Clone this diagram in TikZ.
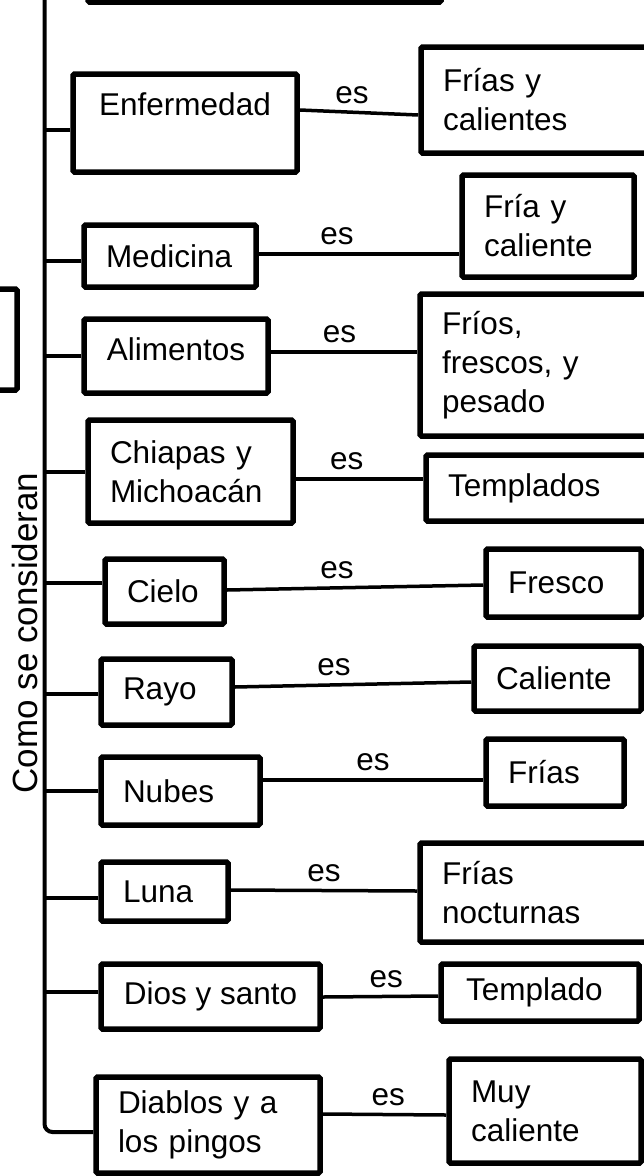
\documentclass[tikz,border=0pt]{standalone}
\usepackage{fontspec}
\setmainfont{Liberation Sans}
\usetikzlibrary{positioning,calc}

\begin{document}
\begin{tikzpicture}[x=1pt,y=-1pt,
        font=\fontsize{31.5}{39}\selectfont,
        caja/.style={draw, line width=5.5pt, rounded corners=1.5pt, inner sep=0pt},
        nota/.style={caja, align=left, inner xsep=22pt, text width=#1},
        rama/.style={line width=4pt},
        enlace/.style={line width=3.5pt},
        etiq/.style={above, inner sep=7pt}]
  \useasboundingbox (0,0) rectangle (644,1176);

  % cajas cortadas por el borde
  \node[caja, minimum width=353, minimum height=100] (arriba) at (264.5,-48) {};
  \node[caja, minimum width=115, minimum height=101] (izq) at (-40.5,339.5) {};

  % conceptos de la izquierda
  \node[caja, minimum width=224, minimum height=98,
        text height=23pt, text depth=39pt] (enf) at (185,123) {Enfermedad};
  \node[nota=128, minimum height=62] (med) at (170,256) {Medicina};
  \node[caja, minimum width=184, minimum height=74,
        text height=23pt, text depth=15pt] (ali) at (176,356) {Alimentos};
  \node[nota=161, minimum height=103] (chi) at (190.5,471.5) {Chiapas y\\Michoacán};
  \node[nota=75, minimum height=65] (cie) at (164.5,591.5) {Cielo};
  \node[nota=87, minimum height=66] (ray) at (166.5,692) {Rayo};
  \node[nota=115, minimum height=68] (nub) at (180.5,791) {Nubes};
  \node[nota=83, minimum height=59] (lun) at (164.5,891.5) {Luna};
  \node[caja, minimum width=219, minimum height=65] (dio) at (210.5,996.5) {Dios y santo};
  \node[nota=180, minimum height=96] (dia) at (208,1125) {Diablos y a\\los pingos};

  % valores de la derecha
  \node[nota=193, minimum height=106] (fyc) at (539.5,100) {Frías y\\calientes};
  \node[nota=128, minimum height=102] (fcal) at (548,226) {Fría y\\caliente};
  \node[nota=194, minimum height=142] (ffp) at (539,365) {Fríos,\\frescos, y\\pesado};
  \node[nota=188, minimum height=66] (tps) at (542,488) {Templados};
  \node[nota=111, minimum height=68] (fre) at (563.5,583) {Fresco};
  \node[nota=123, minimum height=65] (cal) at (557.5,678.5) {Caliente};
  \node[nota=94, minimum height=67] (fri) at (555,772.5) {Frías};
  \node[nota=194, minimum height=99] (fno) at (539,892.5) {Frías\\nocturnas};
  \node[nota=148, inner xsep=25pt, minimum height=57] (tpl) at (540,992.5) {Templado};
  \node[nota=148, minimum height=104] (muy) at (545,1111) {Muy\\caliente};

  % eje vertical
  \coordinate (eje) at (44.5,-5);
  \node[rotate=90, font=\fontsize{35}{42}\selectfont] (como) at (25,633) {Como se consideran};
  \draw[line width=4pt, rounded corners=8pt] (eje) |- ([yshift=-7pt]dia.west);

  \draw[rama] ([yshift=-7pt]enf.west) -- ([yshift=-7pt]enf.west -| eje);
  \draw[rama] ([yshift=-5pt]med.west) -- ([yshift=-5pt]med.west -| eje);
  \draw[rama] (ali.west) -- (ali.west -| eje);
  \draw[rama] (chi.west) -- (chi.west -| eje);
  \draw[rama] ([yshift=8.5pt]cie.west) -- ([yshift=8.5pt]cie.west -| eje);
  \draw[rama] ([yshift=-2pt]ray.west) -- ([yshift=-2pt]ray.west -| eje);
  \draw[rama] (nub.west) -- (nub.west -| eje);
  \draw[rama] ([yshift=-6.5pt]lun.west) -- ([yshift=-6.5pt]lun.west -| eje);
  \draw[rama] ([yshift=4.5pt]dio.west) -- ([yshift=4.5pt]dio.west -| eje);

  % "es"
  \draw[enlace] ([yshift=13pt]enf.east) -- node[etiq, pos=.44] {es} ([yshift=-15pt]fyc.west);
  \draw[enlace] ([yshift=2pt]med.east) -- node[etiq, pos=.39] {es} ([yshift=-28pt]fcal.west);
  \draw[enlace] ([yshift=4pt]ali.east) -- node[etiq, pos=.47] {es} ([yshift=13pt]ffp.west);
  \draw[enlace] ([yshift=-7.5pt]chi.east) -- node[etiq, pos=.40] {es} ([yshift=9pt]tps.west);
  \draw[enlace] ([yshift=1.5pt]cie.east) -- node[etiq, pos=.43] {es} ([yshift=-2pt]fre.west);
  \draw[enlace] ([yshift=5pt]ray.east) -- node[etiq, pos=.42] {es} ([yshift=-3.5pt]cal.west);
  \draw[enlace] ([yshift=11pt]nub.east) -- node[etiq, pos=.50] {es} ([yshift=-7.5pt]fri.west);
  \draw[enlace] ([yshift=1.5pt]lun.east) -- node[etiq, pos=.50] {es} ([yshift=1.5pt]fno.west);
  \draw[enlace] ([yshift=-0.5pt]dio.east) -- node[etiq, pos=.55] {es} ([yshift=-3.5pt]tpl.west);
  \draw[enlace] ([yshift=11pt]dia.east) -- node[etiq, pos=.53] {es} ([yshift=-4pt]muy.west);
\end{tikzpicture}
\end{document}
